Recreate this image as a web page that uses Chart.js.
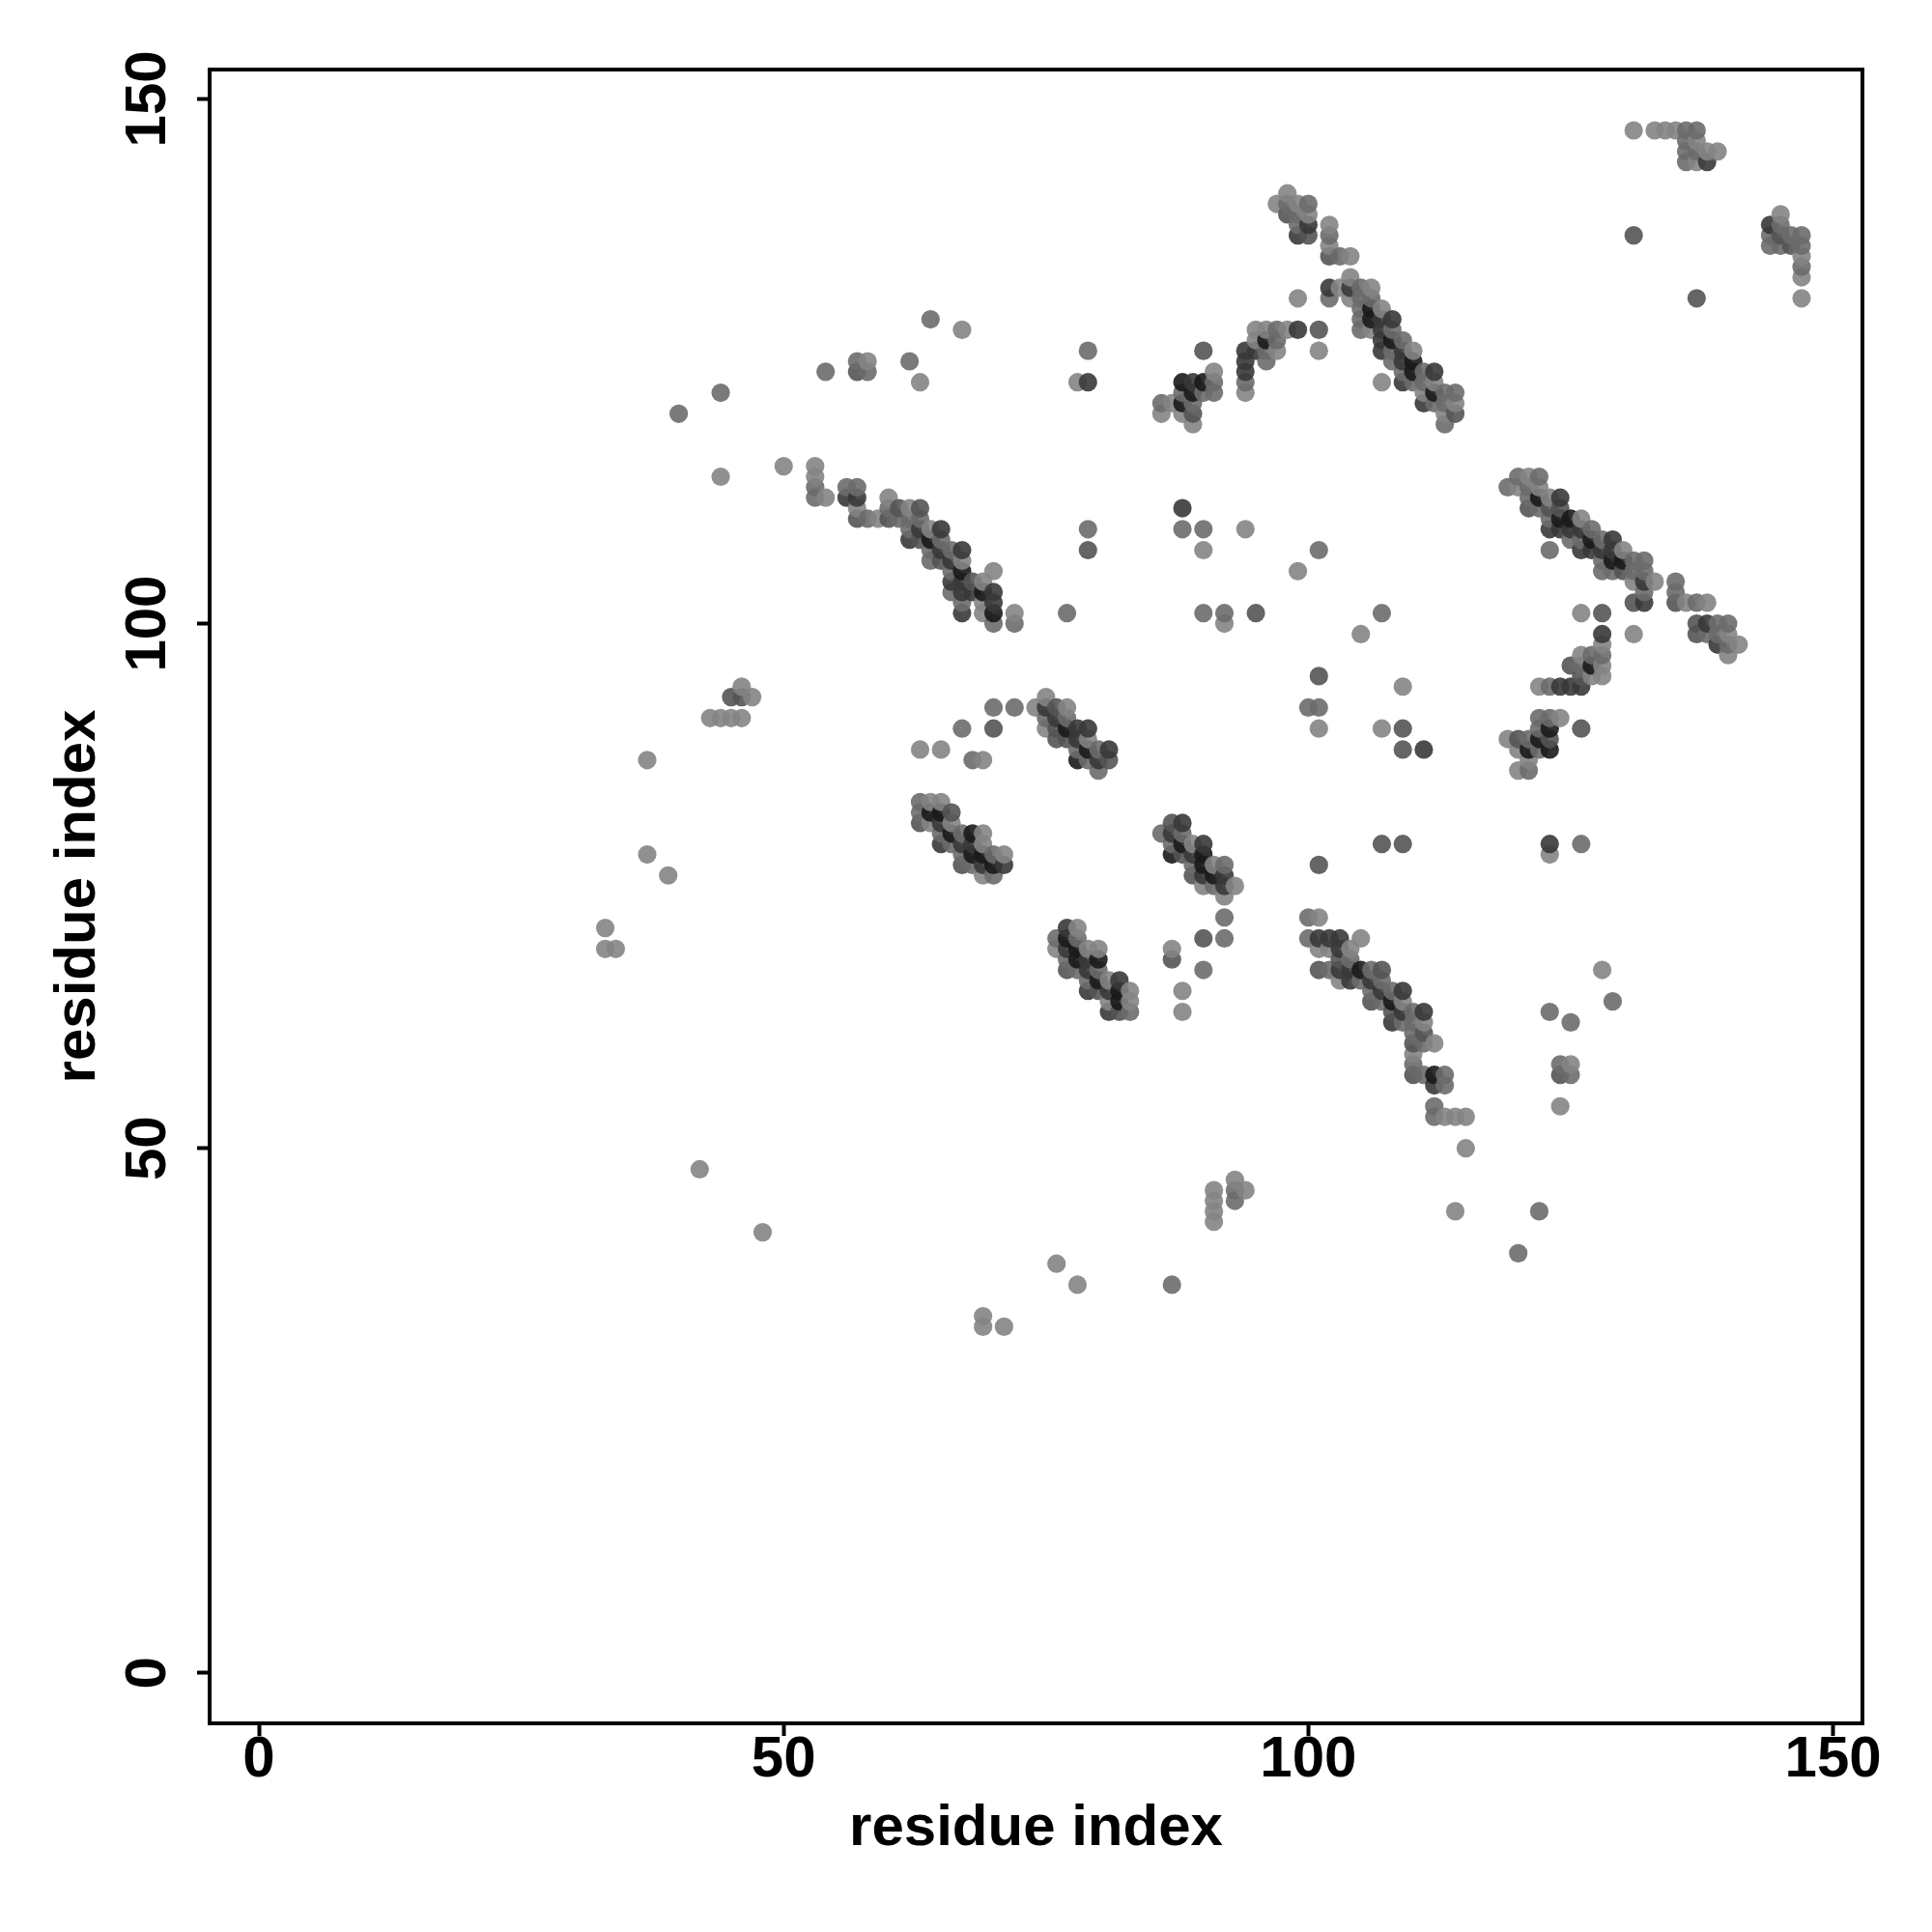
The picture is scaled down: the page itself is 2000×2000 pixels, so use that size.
<!DOCTYPE html>
<html>
<head>
<meta charset="utf-8">
<title>residue contact map</title>
<script src="https://cdn.jsdelivr.net/npm/chart.js@4"></script>
<style>
  html, body { margin: 0; padding: 0; background: #fff; }
  canvas { display: block; }
</style>
</head>
<body>
<canvas id="mapa" width="2000" height="2000"></canvas>
<script>
const tickValues = [0, 50, 100, 150];
const axisTitle = "residue index";

// one entry per residue on the x axis
const columnX = [
  33, 34, 37, 39, 40, 42, 43, 44, 45, 46, 47, 48, 50, 53, 54, 56, 57, 58, 59, 60,
  61, 62, 63, 64, 65, 66, 67, 68, 69, 70, 71, 72, 74, 75, 76, 77, 78, 79, 80, 81,
  82, 83, 86, 87, 88, 89, 90, 91, 92, 93, 94, 95, 96, 97, 98, 99, 100, 101, 102, 103,
  104, 105, 106, 107, 108, 109, 110, 111, 112, 113, 114, 115, 119, 120, 121, 122, 123, 124, 125, 126,
  127, 128, 129, 130, 131, 132, 133, 134, 135, 136, 137, 138, 139, 140, 141, 144, 145, 146, 147
];

// y residues in contact, same order as columnX
const columnY = [
  [71, 69], [69], [87, 78], [76], [120], [48], [91], [122, 114, 91], [93, 91], [94, 93, 91],
  [93], [42], [115], [115, 114, 113, 112], [124, 112], [113, 112],
  [125, 124, 113, 112, 111, 110], [125, 124, 110], [110], [112, 111, 110],
  [111, 110], [125, 111, 110, 109, 108],
  [123, 111, 110, 109, 108, 88, 83, 82, 81],
  [129, 109, 108, 107, 106, 83, 82, 81],
  [109, 108, 107, 106, 88, 83, 82, 81, 80, 79],
  [107, 106, 105, 104, 103, 82, 81, 80, 79],
  [128, 107, 106, 105, 104, 103, 102, 101, 90, 80, 79, 78, 77],
  [104, 103, 87, 80, 79, 78, 77],
  [104, 103, 102, 101, 87, 80, 79, 78, 77, 76, 34, 33],
  [105, 103, 102, 101, 100, 92, 90, 78, 77, 76],
  [78, 77, 33], [101, 100, 92], [92], [93, 92, 91, 90],
  [92, 91, 90, 89, 70, 69, 39],
  [101, 92, 91, 90, 89, 71, 70, 69, 68, 67],
  [123, 90, 89, 88, 87, 71, 70, 69, 68, 67, 37],
  [126, 123, 109, 107, 90, 89, 88, 87, 69, 68, 67, 66, 65],
  [88, 87, 86, 69, 68, 67, 66, 65],
  [88, 87, 66, 65, 64, 63],
  [66, 65, 64, 63], [65, 64, 63], [121, 120, 80],
  [121, 81, 80, 79, 78, 69, 68, 37],
  [123, 122, 121, 120, 111, 109, 81, 80, 79, 78, 65, 63],
  [123, 122, 121, 120, 119, 79, 78, 77, 76],
  [126, 123, 122, 109, 107, 101, 79, 78, 77, 76, 75, 70, 67],
  [124, 123, 122, 77, 76, 75, 46, 45, 44, 43],
  [101, 100, 77, 76, 75, 74, 72, 70],
  [75, 47, 46, 45],
  [126, 125, 124, 123, 122, 109, 46],
  [128, 127, 126, 101], [128, 127, 126, 125], [140, 128, 127, 126], [141, 140, 139, 128],
  [140, 139, 138, 137, 131, 128, 105],
  [140, 139, 138, 137, 92, 72, 70],
  [128, 126, 107, 95, 92, 90, 77, 72, 70, 69, 67],
  [138, 137, 136, 135, 132, 131, 70, 69, 67],
  [135, 132, 70, 69, 68, 67, 66],
  [135, 133, 132, 131, 69, 68, 67, 66],
  [132, 131, 130, 129, 128, 99, 70, 67, 66],
  [132, 131, 130, 129, 128, 67, 66, 65, 64],
  [130, 129, 128, 127, 126, 123, 101, 90, 79, 67, 66, 65, 64],
  [129, 128, 127, 126, 125, 65, 64, 63, 62],
  [127, 126, 125, 124, 123, 94, 90, 88, 79, 65, 64, 63, 62],
  [126, 125, 124, 123, 63, 62, 61, 60, 59, 58, 57],
  [124, 123, 122, 121, 88, 63, 62, 61, 60, 57],
  [124, 123, 122, 121, 60, 57, 56, 54, 53],
  [122, 121, 120, 119, 57, 56, 53],
  [122, 121, 120, 53, 44], [53, 50], [113, 89],
  [114, 113, 89, 88, 86, 40],
  [114, 113, 112, 111, 89, 88, 87, 86],
  [114, 113, 112, 111, 94, 91, 90, 89, 88, 44],
  [112, 111, 110, 109, 107, 94, 91, 90, 89, 88, 79, 78, 63],
  [112, 111, 110, 109, 94, 91, 58, 57, 54],
  [110, 109, 108, 96, 94, 62, 58, 57],
  [110, 109, 108, 107, 101, 97, 96, 95, 94, 90, 79],
  [109, 108, 107, 97, 96, 95],
  [108, 107, 106, 105, 101, 99, 98, 97, 96, 95, 67],
  [108, 107, 106, 105, 64], [107, 106, 105],
  [147, 137, 106, 105, 104, 102, 99],
  [106, 105, 104, 103, 102], [147, 104], [147], [147, 104, 103, 102],
  [147, 146, 145, 144, 102],
  [147, 146, 145, 144, 131, 102, 100, 99],
  [145, 144, 102, 100, 99], [145, 100, 99, 98], [100, 99, 98, 97], [98],
  [138, 137, 136], [139, 138, 137, 136], [137, 136], [137, 136, 135, 134, 133, 131]
];

// contact strength read from the grey of each dot, 1 is faint and 5 is strong
const columnLevel = [
  [1, 1], [1], [1, 1], [1], [2], [1], [1], [2, 1, 1], [3, 1], [1, 3, 1],
  [1], [1], [1], [1, 1, 2, 2], [2, 1], [2, 4],
  [2, 3, 2, 4, 1, 3], [1, 2, 2], [1], [1, 2, 3],
  [3, 2], [2, 1, 2, 2, 4],
  [1, 3, 2, 4, 3, 1, 2, 2, 3],
  [2, 1, 5, 2, 2, 1, 5, 1],
  [4, 2, 4, 3, 1, 1, 5, 4, 2, 4],
  [2, 4, 2, 4, 2, 3, 1, 5, 2],
  [1, 4, 1, 5, 4, 4, 2, 4, 2, 2, 4, 2, 3],
  [3, 4, 2, 5, 4, 5, 2],
  [1, 5, 1, 1, 1, 1, 1, 5, 4, 1, 1, 1],
  [1, 4, 4, 5, 2, 2, 3, 2, 5, 2],
  [1, 4, 1], [1, 2, 2], [1], [1, 4, 2, 1],
  [3, 4, 3, 3, 2, 1, 1],
  [2, 1, 2, 5, 3, 4, 5, 4, 2, 3],
  [1, 4, 4, 2, 5, 1, 2, 5, 5, 2, 1],
  [2, 4, 2, 3, 4, 1, 5, 2, 1, 4, 4, 2, 4],
  [2, 4, 2, 1, 5, 2, 5, 3],
  [4, 3, 1, 4, 1, 4],
  [4, 5, 5, 3], [1, 1, 2], [2, 1, 2],
  [1, 3, 4, 2, 5, 1, 3, 2],
  [5, 2, 5, 1, 4, 2, 4, 2, 5, 3, 1, 1],
  [4, 5, 2, 3, 1, 1, 4, 2, 3],
  [3, 5, 2, 2, 1, 2, 4, 5, 5, 4, 1, 3, 2],
  [1, 2, 2, 1, 5, 2, 1, 1, 1, 1],
  [2, 1, 2, 4, 4, 1, 2, 2],
  [1, 1, 2, 2],
  [4, 4, 4, 2, 1, 1, 1],
  [1, 1, 4, 3], [1, 5, 2, 2], [1, 2, 2, 1], [1, 2, 3, 1],
  [1, 2, 2, 4, 1, 4, 1],
  [2, 1, 4, 3, 2, 2, 2],
  [3, 1, 2, 3, 2, 1, 3, 1, 4, 1, 3],
  [1, 2, 1, 3, 4, 2, 4, 1, 2],
  [2, 1, 4, 4, 3, 4, 1],
  [1, 1, 4, 1, 1, 2, 4, 4],
  [2, 2, 2, 2, 2, 1, 1, 5, 2],
  [1, 2, 5, 5, 1, 2, 4, 2, 3],
  [1, 4, 4, 4, 4, 1, 2, 1, 3, 3, 2, 4, 2],
  [4, 2, 5, 2, 2, 2, 5, 3, 4],
  [2, 4, 4, 2, 4, 1, 3, 3, 3, 4, 1, 4, 2],
  [1, 5, 5, 2, 2, 2, 2, 3, 1, 2, 3],
  [2, 2, 1, 4, 4, 4, 1, 3, 2, 2],
  [4, 1, 5, 2, 1, 5, 4, 2, 2],
  [2, 2, 1, 2, 2, 2, 1],
  [2, 1, 3, 1, 1], [1, 1], [2, 1],
  [2, 1, 3, 1, 1, 2],
  [1, 2, 2, 3, 2, 5, 1, 2],
  [2, 1, 5, 2, 1, 2, 2, 5, 2, 2],
  [1, 3, 2, 4, 2, 2, 2, 5, 3, 5, 4, 1, 2],
  [4, 3, 5, 4, 4, 1, 2, 3, 1],
  [5, 4, 2, 3, 4, 2, 1, 2],
  [1, 4, 2, 4, 1, 1, 2, 3, 4, 3, 2],
  [2, 5, 4, 2, 5, 1],
  [2, 4, 2, 2, 3, 4, 1, 2, 1, 1, 1],
  [4, 4, 5, 2, 2], [1, 5, 3],
  [1, 3, 2, 2, 1, 3, 1],
  [2, 2, 4, 2, 4], [1, 1], [1], [1, 2, 2, 3],
  [2, 2, 2, 2, 1],
  [2, 1, 2, 1, 3, 2, 3, 3],
  [1, 4, 1, 4, 2], [1, 2, 2, 4], [2, 1, 2, 1], [1],
  [4, 2, 2], [1, 2, 3, 2], [2, 3], [2, 2, 1, 2, 1, 1]
];

const levelColors = {
  1: "rgba(132,132,132,0.9)",
  2: "rgba(108,108,108,0.9)",
  3: "rgba(84,84,84,0.9)",
  4: "rgba(56,56,56,0.9)",
  5: "rgba(26,26,26,0.9)",
};

// dots are painted left to right, and bottom to top inside a column
let puntos = [];
columnX.forEach((x, i) => {
  for (let j = columnY[i].length - 1; j >= 0; j--) {
    puntos.push({ x: x, y: columnY[i][j], level: columnLevel[i][j] });
  }
});

const marco = {
  id: "marco",
  afterDraw(chart) {
    const { ctx, chartArea } = chart;
    ctx.save();
    ctx.strokeStyle = "#000";
    ctx.lineWidth = 4;
    ctx.strokeRect(chartArea.left, chartArea.top, chartArea.width, chartArea.height);
    ctx.restore();
  },
};

const fuente = { family: "'Liberation Sans'", weight: "bold", size: 60 };

function fijarTicks(scale) {
  scale.ticks = tickValues.map((v) => ({ value: v }));
}

const grid = {
  display: true,
  drawOnChartArea: false,
  drawTicks: true,
  tickLength: 13,
  tickWidth: 4,
  tickColor: "#000",
};

new Chart(document.getElementById("mapa"), {
  type: "scatter",
  data: {
    datasets: [
      {
        data: puntos,
        pointRadius: 9.6,
        pointHoverRadius: 9.6,
        pointBorderWidth: 0,
        pointBackgroundColor: (ctx) => levelColors[ctx.raw.level],
      },
    ],
  },
  plugins: [marco],
  options: {
    responsive: false,
    animation: false,
    layout: { padding: { top: 72, right: 72, left: 0, bottom: 0 } },
    plugins: { legend: { display: false }, tooltip: { enabled: false } },
    scales: {
      x: {
        type: "linear",
        min: -4.7,
        max: 152.8,
        afterBuildTicks: fijarTicks,
        afterFit(scale) {
          scale.height = 216;
        },
        border: { display: false },
        grid: grid,
        ticks: {
          color: "#000",
          font: fuente,
          padding: -11,
          autoSkip: false,
          maxRotation: 0,
        },
        title: {
          display: true,
          text: axisTitle,
          color: "#000",
          font: fuente,
          padding: { top: 0, bottom: 71 },
        },
      },
      y: {
        type: "linear",
        min: -4.8,
        max: 152.8,
        afterBuildTicks: fijarTicks,
        afterFit(scale) {
          scale.width = 217;
        },
        border: { display: false },
        grid: grid,
        ticks: {
          color: "#000",
          font: fuente,
          padding: -1,
          autoSkip: false,
          minRotation: 90,
          maxRotation: 90,
          crossAlign: "center",
        },
        title: {
          display: true,
          text: axisTitle,
          color: "#000",
          font: fuente,
          padding: { top: 45, bottom: 0 },
        },
      },
    },
  },
});
</script>
</body>
</html>
